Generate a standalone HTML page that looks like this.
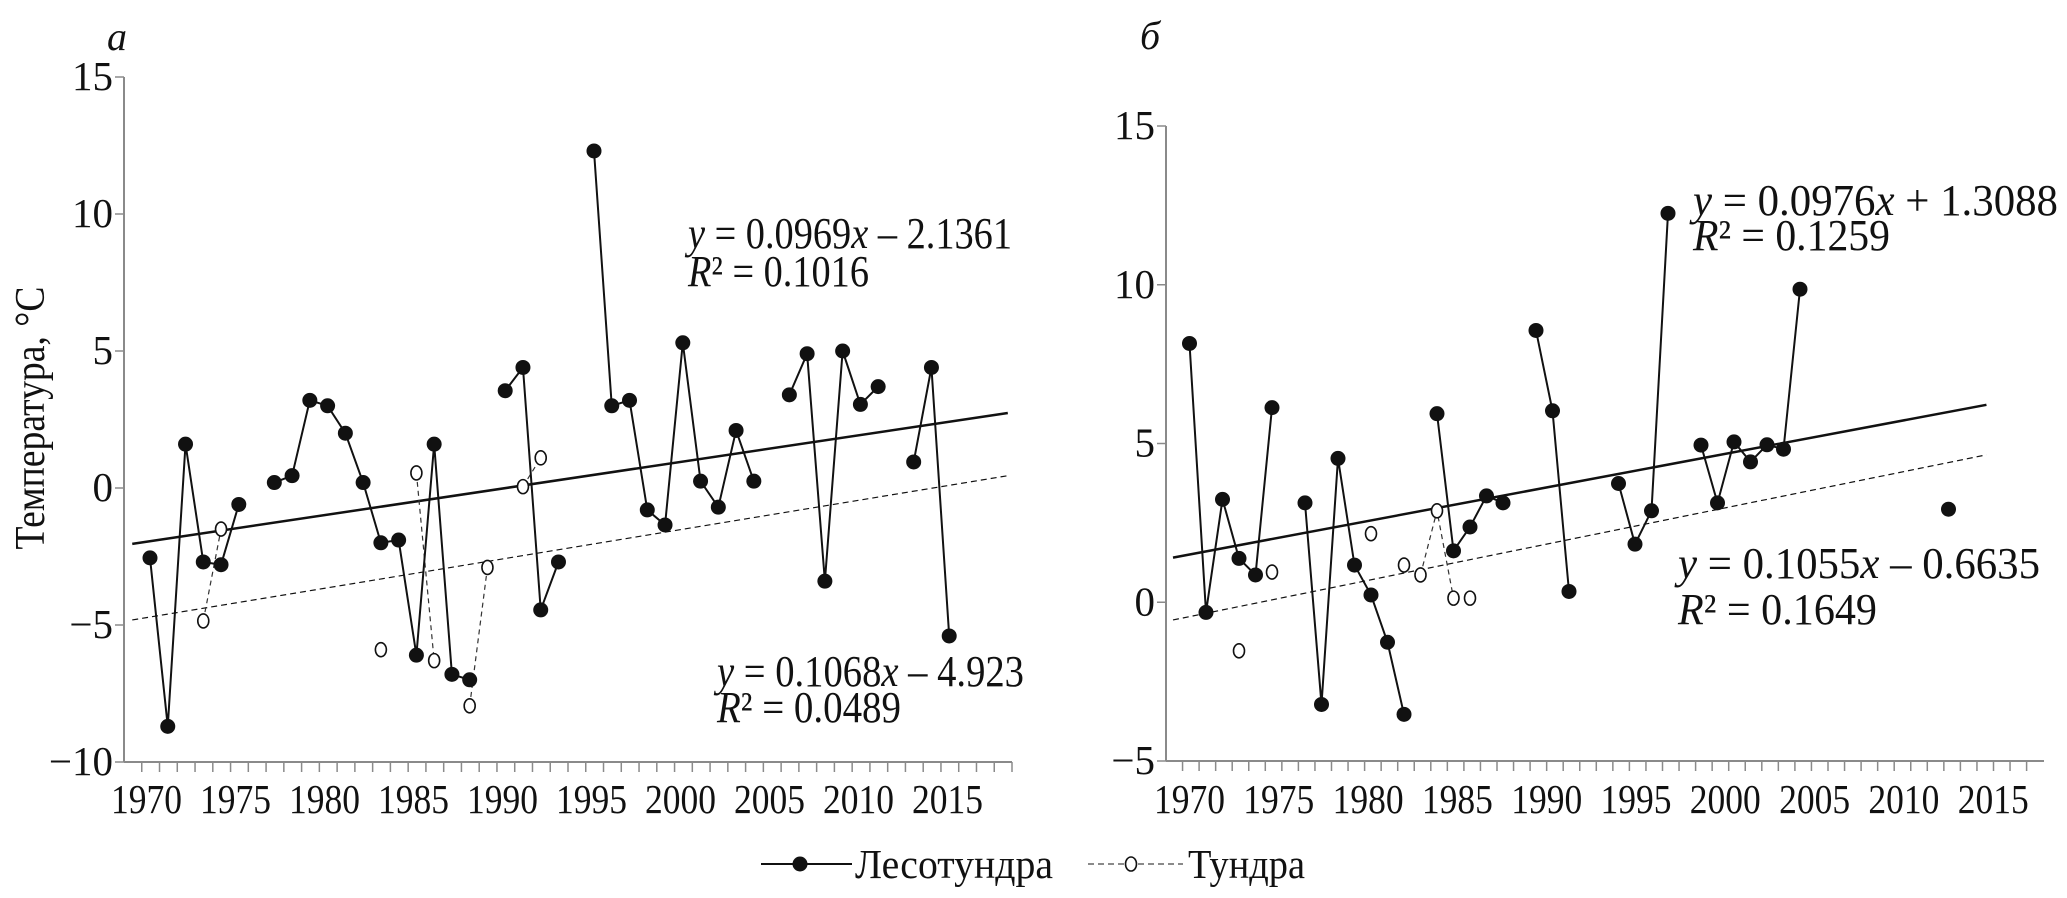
<!DOCTYPE html>
<html><head><meta charset="utf-8"><style>
html,body{margin:0;padding:0;background:#fff;}
svg{display:block;font-family:"Liberation Serif",serif;}
</style></head><body>
<svg id="c" width="2067" height="898" viewBox="0 0 2067 898" xmlns="http://www.w3.org/2000/svg">
<g id="root"></g>
</svg>
<script>
// ---- Data: panel a ----
const yearsA_forest = [1970,1971,1972,1973,1974,1975,null,1977,1978,1979,1980,1981,1982,1983,1984,1985,1986,1987,1988,null,1990,1991,1992,1993,null,1995,1996,1997,1998,1999,2000,2001,2002,2003,2004,null,2006,2007,2008,2009,2010,2011,null,2013,2014,2015];
const valsA_forest = [-2.55,-8.7,1.6,-2.7,-2.8,-0.6,null,0.2,0.45,3.2,3.0,2.0,0.2,-2.0,-1.9,-6.1,1.6,-6.8,-7.0,null,3.55,4.4,-4.45,-2.7,null,12.3,3.0,3.2,-0.8,-1.35,5.3,0.25,-0.7,2.1,0.25,null,3.4,4.9,-3.4,5.0,3.05,3.7,null,0.95,4.4,-5.4];
const yearsA_tundra = [1973,1974,null,1983,null,1985,1986,null,1988,1989,null,1991,1992];
const valsA_tundra = [-4.85,-1.5,null,-5.9,null,0.55,-6.3,null,-7.95,-2.9,null,0.05,1.1];
// ---- Data: panel б ----
const yearsB_forest = [1970,1971,1972,1973,1974,1975,null,1977,1978,1979,1980,1981,1982,1983,null,1985,1986,1987,1988,1989,null,1991,1992,1993,null,1996,1997,1998,1999,null,2001,2002,2003,2004,2005,2006,2007,null,2016];
const valsB_forest = [8.15,-0.32,3.24,1.38,0.86,6.13,null,3.13,-3.22,4.53,1.17,0.23,-1.26,-3.53,null,5.94,1.62,2.37,3.35,3.13,null,8.56,6.03,0.34,null,3.74,1.83,2.88,12.25,null,4.95,3.13,5.05,4.42,4.96,4.82,9.86,null,2.93];
const yearsB_tundra = [1973,null,1975,null,1981,null,1983,null,1984,1985,1986,null,1987];
const valsB_tundra = [-1.53,null,0.95,null,2.16,null,1.17,null,0.86,2.88,0.13,null,0.13];
// trends: y = slope*(year-1968)+intercept
const trendSlopes = [0.0969,0.1068,0.0976,0.1055];
const trendIntercepts = [-2.1361,-4.923,1.3088,-0.6635];
const xTickLabels = ["1970","1975","1980","1985","1990","1995","2000","2005","2010","2015"];
const yTicksA = [15,10,5,0,-5,-10];
const yTicksB = [15,10,5,0,-5];

const NS="http://www.w3.org/2000/svg";
const root=document.getElementById('root');
function mk(tag,attrs,parent){const e=document.createElementNS(NS,tag);for(const k in attrs)e.setAttribute(k,attrs[k]);(parent||root).appendChild(e);return e;}

const xA=yr=>150+(yr-1970)*17.76;
const yA=v=>77+(15-v)*27.4;
const xB=yr=>1189.5+(yr-1970)*16.5;
const yB=v=>126+(15-v)*31.75;

function fmt(v){return v<0?'\u2212'+Math.abs(v):String(v);}

function axes(g,ax0,ax1,ytop,ybot,tickStep,nTicks,yTicks,ys,labX0,labStep,name){
  const a=mk('g',{},g);
  
  
  mk('line',{x1:ax0,y1:ytop,x2:ax0,y2:ybot,stroke:'#8a8a8a','stroke-width':2},a);
  mk('line',{x1:ax0,y1:ybot,x2:ax1,y2:ybot,stroke:'#8a8a8a','stroke-width':2},a);
  for(let i=1;i<=nTicks;i++){const x=ax0+i*tickStep;mk('line',{x1:x,y1:ybot,x2:x,y2:ybot+10,stroke:'#8a8a8a','stroke-width':1.5},a);}
  yTicks.forEach(v=>{
    const y=ys(v);
    mk('line',{x1:ax0-9,y1:y,x2:ax0,y2:y,stroke:'#8a8a8a','stroke-width':1.5},a);
    const t=mk('text',{x:ax0-11,y:y+13,'text-anchor':'end','font-size':41,fill:'#111'},a);
    
    
    t.textContent=fmt(v);
  });
  xTickLabels.forEach((s,i)=>{
    const cx=labX0+i*labStep;
    const t=mk('text',{x:cx-36,y:813,'font-size':41,fill:'#111',textLength:71,lengthAdjust:'spacingAndGlyphs'},a);
    
    
    t.textContent=s;
  });
}

function series(g,years,vals,xs,ys,filled,name){
  const s=mk('g',{},g);
  
  
  let seg=[];
  const flush=()=>{ if(seg.length>1){mk('polyline',{points:seg.join(' '),fill:'none',stroke:filled?'#111':'#333','stroke-width':filled?2:1.2,'stroke-dasharray':filled?'none':'5,4'},s);} seg=[]; };
  years.forEach((yr,i)=>{ if(yr===null){flush();return;} seg.push(xs(yr)+','+ys(vals[i])); });
  flush();
  years.forEach((yr,i)=>{
    if(yr===null) return;
    let c;
    if(filled) c=mk('circle',{cx:xs(yr),cy:ys(vals[i]),r:7.5,fill:'#111'},s);
    else c=mk('ellipse',{cx:xs(yr),cy:ys(vals[i]),rx:5.5,ry:7,fill:'#fff',stroke:'#111','stroke-width':1.6},s);
    
    
  });
}

function trend(g,k,xs,ys,solid){
  const y0=1969,y1=2018.3;
  const l=mk('line',{x1:xs(y0),y1:ys(trendSlopes[k]*(y0-1968)+trendIntercepts[k]),x2:xs(y1),y2:ys(trendSlopes[k]*(y1-1968)+trendIntercepts[k]),stroke:'#111','stroke-width':solid?2.5:1.2,'stroke-dasharray':solid?'none':'6,4'},g);
  
  
}

function eq(g,x,y,k,len,len2,yr2){
  const sgn=trendIntercepts[k]<0?' \u2013 ':' + ';
  const t=mk('text',{x:x,y:y,'font-size':44,fill:'#111',textLength:len,lengthAdjust:'spacingAndGlyphs'},g);
  
  
  t.innerHTML='<tspan font-style="italic">y</tspan> = '+trendSlopes[k]+'<tspan font-style="italic">x</tspan>'+sgn+Math.abs(trendIntercepts[k]);
  const r=mk('text',{x:x,y:yr2,'font-size':44,fill:'#111',textLength:len2,lengthAdjust:'spacingAndGlyphs'},g);
  
  
  return r;
}

// Panel a
const gA=mk('g',{});


axes(gA,124,1012,77,762,17.76,50,yTicksA,yA,147,89,'panel-a');
trend(gA,0,xA,yA,true);
trend(gA,1,xA,yA,false);
series(gA,yearsA_tundra,valsA_tundra,xA,yA,false,'tundra-series-a');
series(gA,yearsA_forest,valsA_forest,xA,yA,true,'forest-tundra-series-a');
let r=eq(gA,688,248,0,324,181,286); r.innerHTML='<tspan font-style="italic">R</tspan>² = 0.1016';
r=eq(gA,717,686,1,307,184,722); r.innerHTML='<tspan font-style="italic">R</tspan>² = 0.0489';
let pa=mk('text',{x:107,y:50,'font-size':40,'font-style':'italic',fill:'#111'},gA);


pa.textContent='а';
let yt=mk('text',{x:0,y:0,'font-size':42,fill:'#111','text-anchor':'middle',transform:'translate(44,418) rotate(-90)',textLength:263,lengthAdjust:'spacingAndGlyphs'},gA);


yt.textContent='Температура, °С';

// Panel б
const gB=mk('g',{});


axes(gB,1166,2044,126,761,16.55,52,yTicksB,yB,1190,89.3,'panel-b');
trend(gB,2,xB,yB,true);
trend(gB,3,xB,yB,false);
series(gB,yearsB_tundra,valsB_tundra,xB,yB,false,'tundra-series-b');
series(gB,yearsB_forest,valsB_forest,xB,yB,true,'forest-tundra-series-b');
r=eq(gB,1693,215,2,365,197,250); r.innerHTML='<tspan font-style="italic">R</tspan>² = 0.1259';
r=eq(gB,1678,578,3,362,199,624); r.innerHTML='<tspan font-style="italic">R</tspan>² = 0.1649';
let pb=mk('text',{x:1140,y:49,'font-size':40,'font-style':'italic',fill:'#111'},gB);


pb.textContent='б';

// Legend
const lg=mk('g',{});


const l1=mk('g',{},lg);


mk('line',{x1:761,y1:864,x2:852,y2:864,stroke:'#111','stroke-width':2},l1);
mk('circle',{cx:800,cy:864,r:7.5,fill:'#111'},l1);
let t1=mk('text',{x:855,y:878,'font-size':41,fill:'#111',textLength:198,lengthAdjust:'spacingAndGlyphs'},l1);
t1.textContent='Лесотундра';
const l2=mk('g',{},lg);


mk('line',{x1:1088,y1:864,x2:1183,y2:864,stroke:'#444','stroke-width':1.2,'stroke-dasharray':'6,4'},l2);
mk('ellipse',{cx:1131,cy:864,rx:5.5,ry:7,fill:'#fff',stroke:'#111','stroke-width':1.6},l2);
let t2=mk('text',{x:1188,y:878,'font-size':41,fill:'#111',textLength:117,lengthAdjust:'spacingAndGlyphs'},l2);
t2.textContent='Тундра';
</script>
</body></html>
